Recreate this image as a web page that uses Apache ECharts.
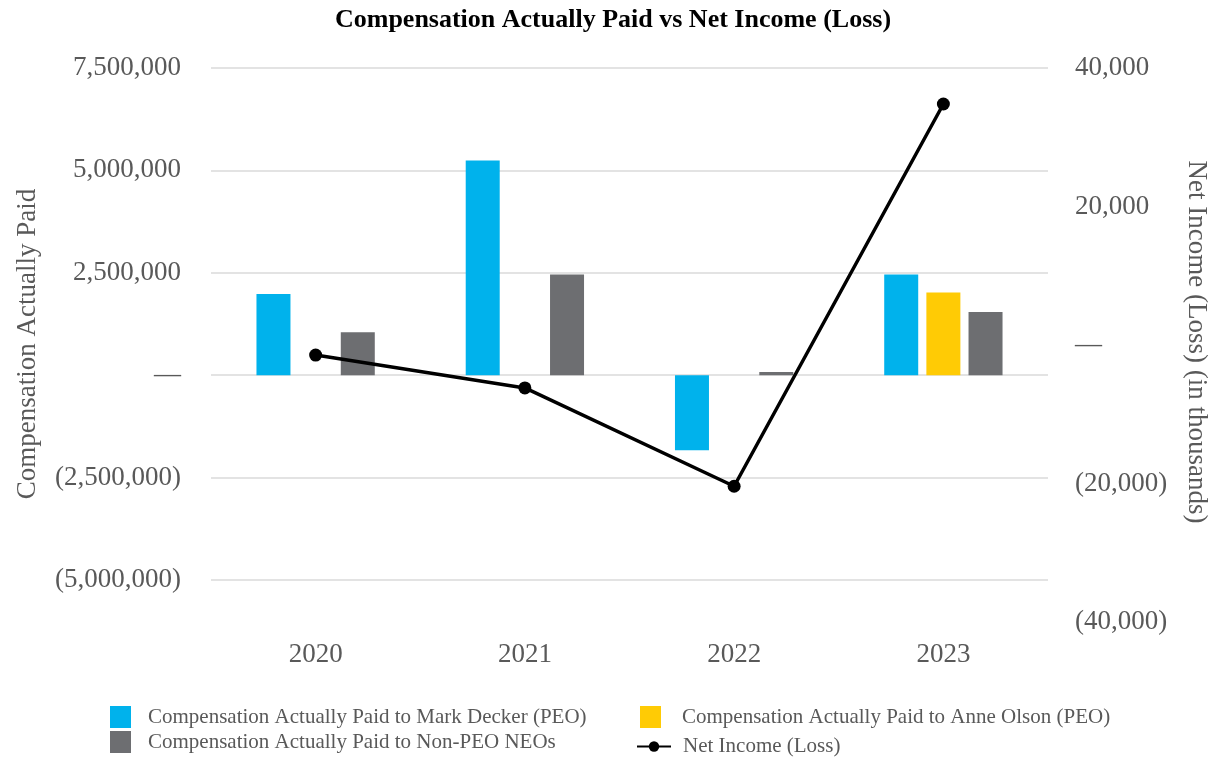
<!DOCTYPE html>
<html>
<head>
<meta charset="utf-8">
<script src="https://cdn.jsdelivr.net/npm/echarts@6/dist/echarts.min.js"></script>
<style>html,body{margin:0;padding:0;background:#fff}#c{width:1226px;height:768px}</style>
</head>
<body>
<div id="c"></div>
<script>
const categories = ['2020', '2021', '2022', '2023'];
const deckerCAP = [1980000, 5240000, -1830000, 2460000];
const olsonCAP = [null, null, null, 2020000];
const nonPeoCAP = [1050000, 2460000, 80000, 1540000];
const netIncome = [-1450, -6200, -20400, 34800];
const leftTicks = { min: -5000000, max: 7500000, interval: 2500000 };
const rightTicks = { min: -40000, max: 40000, interval: 20000 };

const FONT = '"Liberation Serif", "Times New Roman", serif';
const GRAY = '#595959';

function fmt(v) {
  if (v === 0) return '\u2014';
  const s = Math.abs(v).toLocaleString('en-US');
  return v < 0 ? '(' + s + ')' : s;
}

const chart = echarts.init(document.getElementById('c'));
const gridL = 211, gridR = 1226 - 1048;
chart.setOption({
  animation: false,
  backgroundColor: '#fff',
  title: {
    text: 'Compensation Actually Paid vs Net Income (Loss)',
    left: 'center', top: 2,
    textStyle: { fontFamily: FONT, fontSize: 26, fontWeight: 'bold', color: '#000' }
  },
  grid: [
    { left: gridL, right: gridR, top: 68, bottom: 768 - 580 },
    { left: gridL, right: gridR, top: 68, bottom: 768 - 622 }
  ],
  xAxis: [
    { type: 'category', data: categories, gridIndex: 0, show: false },
    { type: 'category', data: categories, gridIndex: 1,
      axisLine: { show: false }, axisTick: { show: false },
      axisLabel: { fontFamily: FONT, fontSize: 27, color: GRAY, margin: 19 } }
  ],
  yAxis: [
    { type: 'value', gridIndex: 0, min: leftTicks.min, max: leftTicks.max, interval: leftTicks.interval,
      axisLine: { show: false }, axisTick: { show: false },
      axisLabel: { fontFamily: FONT, fontSize: 27, color: GRAY, margin: 30, formatter: fmt },
      splitLine: { lineStyle: { color: '#e3e3e3', width: 2 } } },
    { type: 'value', gridIndex: 1, position: 'right', min: rightTicks.min, max: rightTicks.max, interval: rightTicks.interval,
      axisLine: { show: false }, axisTick: { show: false },
      axisLabel: { fontFamily: FONT, fontSize: 27, color: GRAY, margin: 27, formatter: fmt },
      splitLine: { show: false } }
  ],
  graphic: [
    { type: 'text', x: 28, y: 344, rotation: Math.PI / 2,
      style: { text: 'Compensation Actually Paid', font: '27px ' + FONT, fill: GRAY, align: 'center', verticalAlign: 'middle' } },
    { type: 'text', x: 1196, y: 342, rotation: -Math.PI / 2,
      style: { text: 'Net Income (Loss) (in thousands)', font: '27px ' + FONT, fill: GRAY, align: 'center', verticalAlign: 'middle' } }
  ],
  legend: [
    { data: ['Compensation Actually Paid to Mark Decker (PEO)'], left: 110, top: 706, padding: 0, icon: 'rect', itemWidth: 21, itemHeight: 22,
      textStyle: { fontFamily: FONT, fontSize: 21, color: GRAY, padding: [0, 0, 0, 12] } },
    { data: ['Compensation Actually Paid to Anne Olson (PEO)'], left: 640, top: 706, padding: 0, icon: 'rect', itemWidth: 21, itemHeight: 22,
      textStyle: { fontFamily: FONT, fontSize: 21, color: GRAY, padding: [0, 0, 0, 16] } },
    { data: ['Compensation Actually Paid to Non-PEO NEOs'], left: 110, top: 731, padding: 0, icon: 'rect', itemWidth: 21, itemHeight: 22,
      textStyle: { fontFamily: FONT, fontSize: 21, color: GRAY, padding: [0, 0, 0, 12] } },
    { data: ['Net Income (Loss)'], left: 636, top: 736, padding: 0, itemWidth: 34, itemHeight: 13,
      textStyle: { fontFamily: FONT, fontSize: 21, color: GRAY, padding: [0, 0, 0, 7] } }
  ],
  series: [
    { name: 'Compensation Actually Paid to Mark Decker (PEO)', type: 'bar', xAxisIndex: 0, yAxisIndex: 0,
      data: deckerCAP, barWidth: 34, barGap: '24%', itemStyle: { color: '#00B2EC' } },
    { name: 'Compensation Actually Paid to Anne Olson (PEO)', type: 'bar', xAxisIndex: 0, yAxisIndex: 0,
      data: olsonCAP, barWidth: 34, barGap: '24%', itemStyle: { color: '#FFCB05' } },
    { name: 'Compensation Actually Paid to Non-PEO NEOs', type: 'bar', xAxisIndex: 0, yAxisIndex: 0,
      data: nonPeoCAP, barWidth: 34, barGap: '24%', itemStyle: { color: '#6D6E71' } },
    { name: 'Net Income (Loss)', type: 'line', xAxisIndex: 1, yAxisIndex: 1, data: netIncome,
      symbol: 'circle', symbolSize: 13, lineStyle: { color: '#000', width: 3.5 }, itemStyle: { color: '#000' }, z: 5 }
  ]
});
</script>
</body>
</html>
